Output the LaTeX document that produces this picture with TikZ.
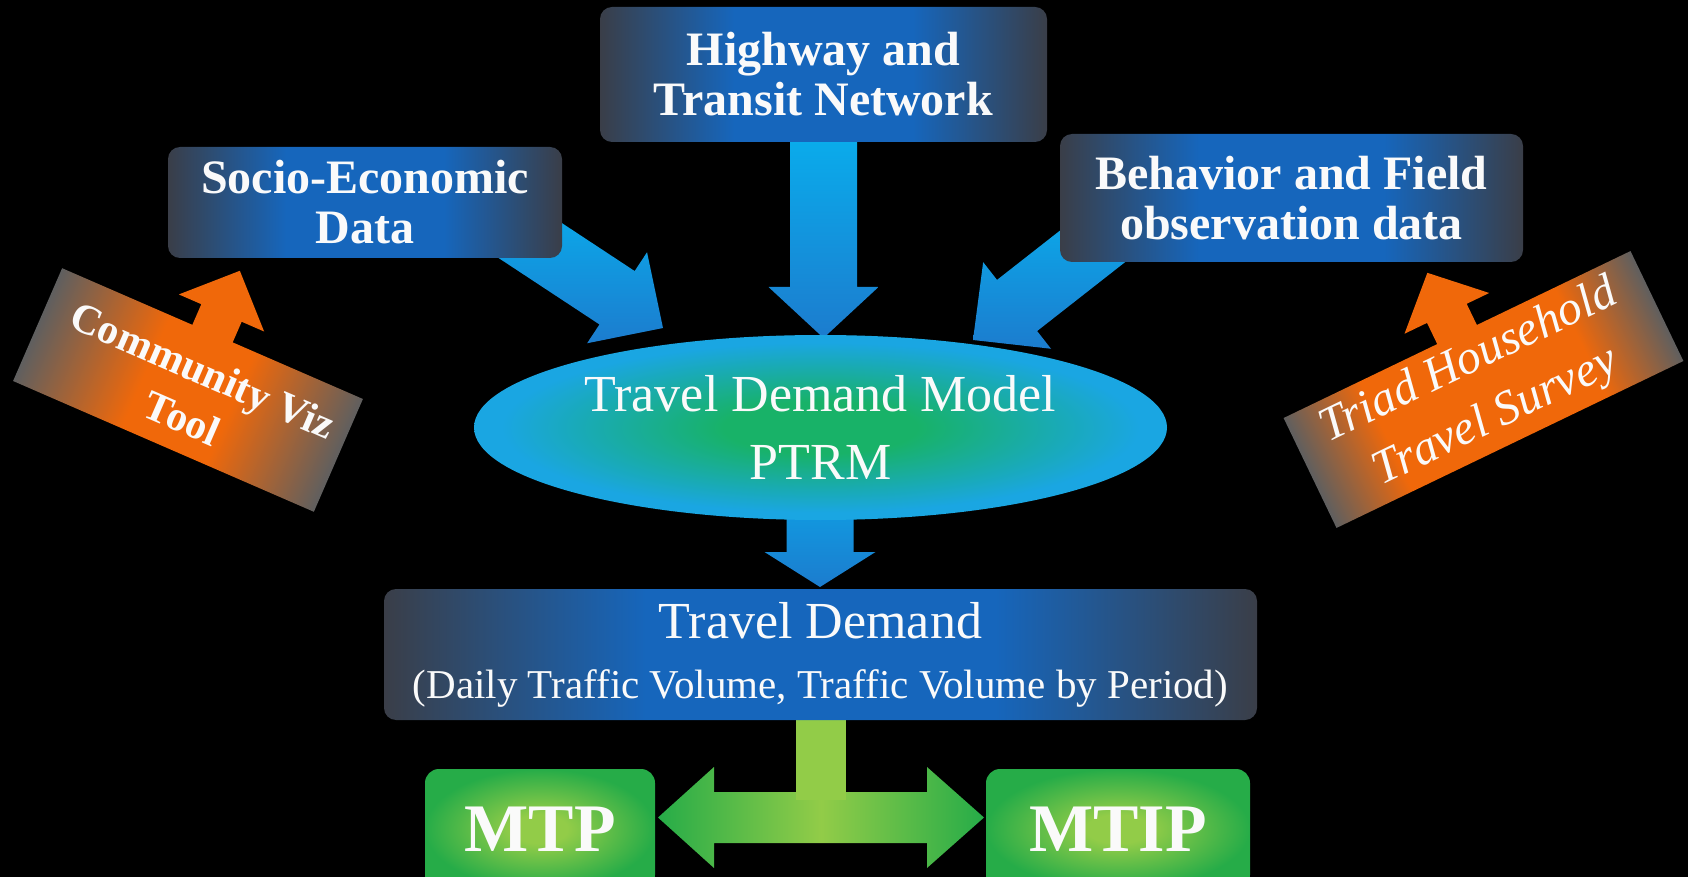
\documentclass[tikz,border=0pt]{standalone}
\usepackage{fontspec}
\setmainfont{Liberation Serif}
\usetikzlibrary{calc,shapes.geometric}

\definecolor{bgray}{RGB}{58,62,72}
\definecolor{bblue}{RGB}{22,102,188}
\definecolor{ogray}{RGB}{95,95,95}
\definecolor{oorange}{RGB}{240,104,10}
\definecolor{eg}{RGB}{24,178,104}
\definecolor{ec}{RGB}{26,166,226}
\definecolor{acyan}{RGB}{8,176,238}
\definecolor{ablue}{RGB}{28,124,206}
\definecolor{ggreen}{RGB}{38,172,72}
\definecolor{lgreen}{RGB}{146,204,72}
\definecolor{txtc}{RGB}{250,250,250}

\pgfdeclarehorizontalshading{bluebox}{100bp}{color(0bp)=(bgray); color(25bp)=(bgray); color(40bp)=(bblue); color(60bp)=(bblue); color(75bp)=(bgray); color(100bp)=(bgray)}
\pgfdeclarehorizontalshading{orangeA}{100bp}{color(0bp)=(ogray); color(25bp)=(ogray); color(43bp)=(oorange); color(57bp)=(oorange); color(75bp)=(ogray); color(100bp)=(ogray)}
\pgfdeclarehorizontalshading{orangeB}{100bp}{color(0bp)=(ogray); color(25bp)=(ogray); color(36bp)=(oorange); color(64bp)=(oorange); color(75bp)=(ogray); color(100bp)=(ogray)}
\pgfdeclareradialshading{ellshade}{\pgfpoint{0bp}{0bp}}{color(0bp)=(eg); color(7bp)=(eg); color(23bp)=(ec); color(50bp)=(ec)}
\pgfdeclareradialshading{greenbox}{\pgfpoint{0bp}{0bp}}{color(0bp)=(lgreen); color(6bp)=(lgreen); color(25bp)=(ggreen); color(50bp)=(ggreen)}

% style, start, tip, half shaft, half head, head length
\newcommand\blockarrow[6]{%
  \coordinate (ba-H) at ($(#3)!#6!(#2)$);
  \path[#1] ($(#2)!#4!90:(#3)$) -- ($(ba-H)!#4!90:(#3)$) -- ($(ba-H)!#5!90:(#3)$) -- (#3)
    -- ($(ba-H)!#5!-90:(#3)$) -- ($(ba-H)!#4!-90:(#3)$) -- ($(#2)!#4!-90:(#3)$) -- cycle;
}

\tikzset{
  bbox/.style={shade, shading=bluebox, rounded corners=6pt, inner sep=0pt, text=txtc, align=center, font=\bfseries\fontsize{24}{25}\selectfont},
  barrow/.style={top color=acyan, bottom color=ablue},
  obox/.style={shade, inner sep=0pt},
  otext/.style={text=txtc, align=center, inner sep=0pt},
  gbox/.style={shade, shading=greenbox, rounded corners=7pt, inner sep=0pt, text=txtc, font=\bfseries\fontsize{34}{34}\selectfont},
}

\begin{document}
\begin{tikzpicture}[x=0.5pt,y=-0.5pt]
\useasboundingbox (0,0) rectangle (1688,877);
\fill[black] (0,0) rectangle (1688,877);
\clip (0,0) rectangle (1688,877);

% blue block arrows (behind the boxes)
\coordinate (s1) at (496,218);   \coordinate (t1) at (663,328);
\coordinate (s2) at (823.5,120); \coordinate (t2) at (823.5,338);
\coordinate (s3) at (1130,217);  \coordinate (t3) at (973,340);
\coordinate (s4) at (820,450);   \coordinate (t4) at (820,587);
\blockarrow{barrow}{s1}{t1}{16pt}{27.25pt}{27.5pt}
\blockarrow{barrow}{s2}{t2}{16.75pt}{27.5pt}{25.5pt}
\blockarrow{barrow}{s3}{t3}{16.25pt}{27.5pt}{28pt}
\blockarrow{barrow}{s4}{t4}{16.75pt}{27.75pt}{17.5pt}

% top boxes
\node[bbox, minimum width=223.5pt, minimum height=67.5pt] (hwy) at (823.5,74.5) {Highway and\\Transit Network};
\node[bbox, minimum width=197pt, minimum height=55.5pt] (socio) at (365,202.5) {Socio-Economic\\Data};
\node[bbox, minimum width=231.5pt, minimum height=64pt] (behav) at (1291.5,198) {Behavior and Field\\observation data};

% model ellipse
\node[ellipse, shade, shading=ellshade, minimum width=346.5pt, minimum height=92.5pt, inner sep=0pt,
      text=txtc, align=center, font=\fontsize{26}{34}\selectfont] (tdm) at (820.5,427.5) {Travel Demand Model\\PTRM};

% green T connector
\coordinate (dL) at (658,817.5); \coordinate (dR) at (984,817.5);
\path[left color=ggreen, right color=ggreen, middle color=lgreen]
  (dL) -- (714,767) -- (714,792) -- (927,792) -- (927,767) -- (dR)
  -- (927,868) -- (927,843) -- (714,843) -- (714,868) -- cycle;
\fill[lgreen] (796,712) rectangle (846,800);

% travel demand box
\node[bbox, minimum width=436.5pt, minimum height=65.5pt, font=\fontsize{20.5}{30}\selectfont] (td) at (820.5,654.5)
  {{\fontsize{26}{30}\selectfont Travel Demand}\\(Daily Traffic Volume, Traffic Volume by Period)};

% outputs
\node[gbox, minimum width=115pt, minimum height=60pt] (mtp) at (540,829) {MTP};
\node[gbox, minimum width=132pt, minimum height=60pt] (mtip) at (1118,829) {MTIP};

% CommunityViz tool
\begin{scope}[transform canvas={shift={(188,390)},rotate=-23.5}]
  \coordinate (cv-s) at (0,-40);
  \coordinate (cv-t) at (0,-130);
  \blockarrow{fill=oorange}{cv-s}{cv-t}{11pt}{23.25pt}{23pt}
  \node[obox, shading=orangeA, minimum width=164pt, minimum height=61.5pt] (cviz) at (0,0) {};
  \node[otext, font=\bfseries\fontsize{21}{26}\selectfont] (cvizt) at (6,2) {Community Viz\\Tool};
\end{scope}

% Triad survey
\begin{scope}[transform canvas={shift={(1483.5,389.5)},rotate=25.7}]
  \coordinate (tr-s) at (0,-40);
  \coordinate (tr-t) at (0,-129.5);
  \blockarrow{fill=oorange}{tr-s}{tr-t}{11pt}{23.5pt}{22.5pt}
  \node[obox, shading=orangeB, minimum width=192.5pt, minimum height=61pt] (triad) at (0,0) {};
  \node[otext, font=\itshape\fontsize{24}{31}\selectfont] (triadt) at (-1,0) {Triad Household\\Travel Survey};
\end{scope}
\end{tikzpicture}
\end{document}
